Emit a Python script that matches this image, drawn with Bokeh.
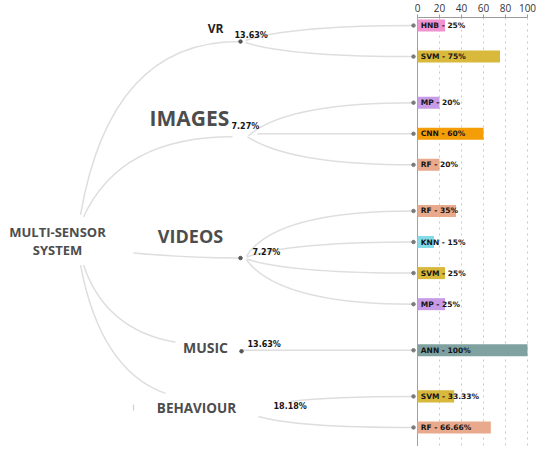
from bokeh.plotting import figure
from bokeh.models import Range1d, LinearAxis, FixedTicker, Grid
from bokeh.core.properties import value
from bokeh.embed import file_html
from bokeh.resources import INLINE

# ---------------- data ----------------
root_label = ["MULTI-SENSOR", "SYSTEM"]
groups = ["VR", "IMAGES", "VIDEOS", "MUSIC", "BEHAVIOUR"]
group_shares = ["13.63%", "7.27%", "7.27%", "13.63%", "18.18%"]
methods = ["HNB", "SVM", "MP", "CNN", "RF", "RF", "KNN", "SVM", "MP", "ANN", "SVM", "RF"]
method_group = [0, 0, 1, 1, 1, 2, 2, 2, 2, 3, 4, 4]
method_values = [25, 75, 20, 60, 20, 35, 15, 25, 25, 100, 33.33, 66.66]
method_value_labels = ["25%", "75%", "20%", "60%", "20%", "35%", "15%", "25%",
                       "25%", "100%", "33.33%", "66.66%"]
ticks = [0, 20, 40, 60, 80, 100]

# ---------------- style / layout ----------------
method_colors = {"HNB": "#f093d0", "SVM": "#d8b93b", "MP": "#c89be6", "CNN": "#f59d06",
                 "RF": "#e9a98c", "KNN": "#84dbe8", "ANN": "#7fa2a1"}
W, H = 540, 446
AX_H = 18                      # estimated height of the top axis
REF0 = 0
ZERO_PX, PX_PER_UNIT = 417, 1.1
ROW0, ROW, GAP = 26, 31, 15
BAR_H = 12
END_X = 413

bar_y = [ROW0 + ROW * i + GAP * g for i, g in enumerate(method_group)]

root_pos = [(57, 232), (57, 250)]
group_label_pos = [(215, 29), (189, 118), (190, 236), (205, 347), (196, 408)]
group_label_size = ["12px", "21px", "18px", "14px", "13.5px"]
group_label_color = ["#222222", "#4d4d4d", "#4d4d4d", "#4d4d4d", "#4d4d4d"]
share_pos = [(234, 36), (231, 127), (252, 252), (247, 344), (273, 406)]
node_dots = [(240, 42), (240, 258), (241, 351)]

root_links = [(80, 215, 110, 42, 238, 42),
              (83, 217, 120, 137, 232, 137),
              (133, 253, 190, 258, 238, 258),
              (83, 265, 105, 330, 175, 342),
              (80, 265, 100, 370, 165, 393)]
child_start = [(245, 41), (245, 43), (248, 136), (257, 134), (247, 137), (246, 256),
               (246, 257), (246, 259), (246, 260), (241, 350), (290, 401), (258, 416)]
child_ctrl_x = [290, 290, 285, 300, 290, 275, 290, 290, 280, 300, 330, 295]

# ---------------- figure ----------------
p = figure(width=W, height=H, output_backend="svg", toolbar_location=None,
           x_range=Range1d(REF0, REF0 + W),
           y_range=Range1d(REF0 + H, REF0 + AX_H),
           x_axis_location=None, y_axis_location=None,
           min_border=0, outline_line_color=None)
p.xgrid.visible = False
p.ygrid.visible = False
p.background_fill_color = "white"
p.border_fill_color = "white"

p.extra_x_ranges = {"val": Range1d((REF0 - ZERO_PX) / PX_PER_UNIT,
                                   (REF0 + W - ZERO_PX) / PX_PER_UNIT)}

ax = LinearAxis(x_range_name="val", ticker=FixedTicker(ticks=ticks), bounds=(0, 100))
ax.major_label_text_font_size = "10px"
ax.major_label_text_font = "Open Sans"
ax.major_label_text_color = "#333333"
ax.axis_line_color = "#9a9a9a"
ax.major_tick_line_color = "#9a9a9a"
ax.minor_tick_line_color = None
ax.major_tick_out = 3
ax.major_tick_in = 0
ax.major_label_standoff = 3
p.add_layout(ax, "above")

p.add_layout(Grid(dimension=0, ticker=FixedTicker(ticks=ticks[1:]), x_range_name="val",
                  grid_line_color="#c8c8c8", grid_line_dash="dotted", grid_line_width=1))
p.add_layout(Grid(dimension=0, ticker=FixedTicker(ticks=[0]), x_range_name="val",
                  grid_line_color="#a0a0a0", grid_line_width=1))

link_col = "#dedede"
p.quadratic(x0=[l[0] for l in root_links], y0=[l[1] for l in root_links],
            cx=[l[2] for l in root_links], cy=[l[3] for l in root_links],
            x1=[l[4] for l in root_links], y1=[l[5] for l in root_links],
            line_color=link_col, line_width=1.5)
p.quadratic(x0=[s[0] for s in child_start], y0=[s[1] for s in child_start],
            cx=child_ctrl_x, cy=bar_y,
            x1=[END_X] * len(bar_y), y1=bar_y,
            line_color=link_col, line_width=1.5)
p.segment(x0=[133], y0=[404], x1=[133], y1=[410], line_color="#cfcfcf", line_width=1.2)

p.hbar(y=bar_y, left=0, right=method_values, height=BAR_H,
       fill_color=[method_colors[m] for m in methods], line_color=None,
       x_range_name="val")

p.scatter(x=[END_X] * len(bar_y), y=bar_y, size=3.5, color="#7a7a7a")
p.scatter(x=[d[0] for d in node_dots], y=[d[1] for d in node_dots], size=3.5, color="#555555")

p.text(x=[3] * len(methods), y=bar_y,
       text=[f"{m} - {v}" for m, v in zip(methods, method_value_labels)],
       x_range_name="val", text_font=value("DejaVu Sans"), text_font_style="bold",
       text_font_size="7.5px", text_color="#151515", text_align="left",
       text_baseline="middle")

p.text(x=[s[0] for s in share_pos], y=[s[1] for s in share_pos], text=group_shares,
       text_font=value("DejaVu Sans"), text_font_style="bold", text_font_size="8px",
       text_color="#151515", text_align="left", text_baseline="middle")

for (gx, gy), g, sz, c in zip(group_label_pos, groups, group_label_size, group_label_color):
    p.text(x=[gx], y=[gy], text=[g], text_font=value("Open Sans"), text_font_style="bold",
           text_font_size=sz, text_color=c, text_align="center", text_baseline="middle")

p.text(x=[r[0] for r in root_pos], y=[r[1] for r in root_pos], text=root_label,
       text_font=value("Open Sans"), text_font_style="bold", text_font_size="13px",
       text_color="#4d4d4d", text_align="center", text_baseline="middle")

open("out.html", "w").write(file_html(p, INLINE))
